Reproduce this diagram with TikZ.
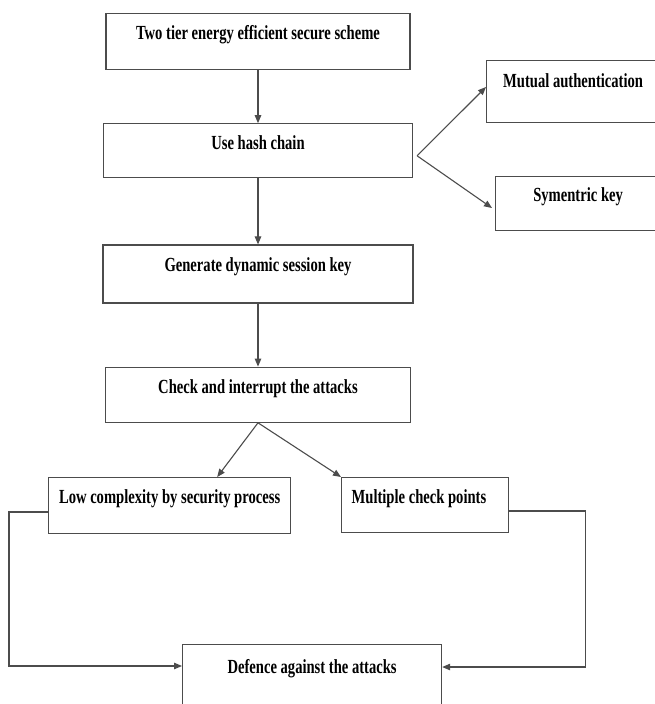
\documentclass[tikz,border=0pt]{standalone}
\usepackage{fontspec}
\setmainfont{Liberation Serif}[FakeStretch=0.73]
\usetikzlibrary{positioning,arrows.meta,calc}

\begin{document}
\begin{tikzpicture}[
    x=1pt, y=1pt,
    node distance=50pt,
    box/.style 2 args={
        draw=black!70,
        line width=1.2pt,
        rectangle,
        inner xsep=4pt,
        inner ysep=0pt,
        minimum width=#1,
        text height=26pt,
        text depth=#2,
        align=center,
        font=\fontsize{20}{22}\selectfont\bfseries
    },
    arrow/.style={-{Triangle[length=8pt,width=6.5pt]}, draw=black!70, line width=1.1pt}
]
\useasboundingbox (0,0) rectangle (654,-704);

\node[box={304pt}{30pt}, anchor=north] (scheme) at (258,-13) {Two tier energy efficient secure scheme};
\node[box={309pt}{28pt}, below=53pt of scheme] (hash) {Use hash chain};
\node[box={310pt}{32pt}, below=66pt of hash] (session) {Generate dynamic session key};
\node[box={305pt}{29pt}, below=63pt of session] (check) {Check and interrupt the attacks};

\node[box={173pt}{35pt}, text height=27pt, anchor=north west] (mutual) at (486,-60) {Mutual authentication};
\node[box={165pt}{29pt}, text height=25pt, anchor=north west] (symkey) at (495,-176) {Symentric key};

\node[box={242pt}{30pt}, anchor=north west] (lowcomp) at (48,-477) {Low complexity by security process};
\node[box={167pt}{29pt}, anchor=north west, inner xsep=10pt, text width=147pt, align=flush left] (checkpts) at (341,-477) {Multiple check points};

\node[box={259pt}{51pt}, text height=29pt, anchor=north west] (defence) at (182,-644) {Defence against the attacks};

% main column
\draw[arrow] (scheme) -- (hash);
\draw[arrow] (hash) -- (session);
\draw[arrow] (session) -- (check);

% hash chain fork
\coordinate (fork) at ($(hash.east)+(4,-5)$);
\draw[arrow] (fork) -- ($(mutual.north west)+(0,-27)$);
\draw[arrow] (fork) -- ($(symkey.north west)+(-3,-32)$);

% attacks fork
\draw[arrow] (check.south) -- ($(lowcomp.north east)+(-74,0)$);
\draw[arrow] (check.south) -- (checkpts.north west);

% into defence
\coordinate (lowout) at ($(lowcomp.north west)+(0,-35)$);
\coordinate (defleft) at ($(defence.north west)+(0,-22)$);
\coordinate (multout) at ($(checkpts.north east)+(0,-34)$);
\coordinate (defright) at ($(defence.north east)+(0,-23)$);
\draw[arrow] (lowout) -- ++(-39,0) |- (defleft);
\draw[arrow] (multout) -- ++(76,0) |- (defright);

\end{tikzpicture}
\end{document}
